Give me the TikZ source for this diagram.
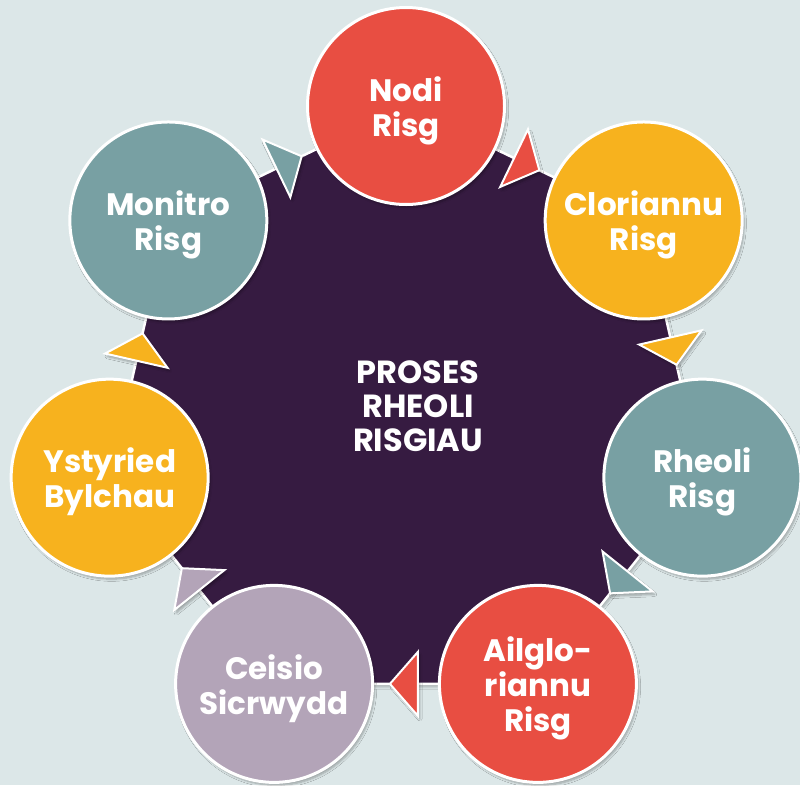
\documentclass[tikz,border=0pt]{standalone}
\usepackage{fontspec}
\setmainfont{Poppins}
\usetikzlibrary{calc,shadows.blur}
\definecolor{bgc}{RGB}{220,231,232}
\definecolor{purp}{RGB}{54,27,65}
\definecolor{cred}{RGB}{232,78,66}
\definecolor{corange}{RGB}{247,178,30}
\definecolor{cteal}{RGB}{120,160,163}
\definecolor{clav}{RGB}{179,164,184}
\tikzset{
  circ/.style={circle, draw=white, line width=3pt, minimum size=197pt, inner sep=0pt,
    blur shadow={shadow xshift=2pt, shadow yshift=-3pt, shadow blur steps=6, shadow opacity=30}},
  lbltext/.style={align=center, text=white, yshift=-4.5pt, inner sep=0pt,
    font=\bfseries\fontsize{31}{35}\selectfont},
  tri/.style={draw=white, line width=2pt, line join=miter,
    blur shadow={shadow xshift=2pt, shadow yshift=-3pt, shadow blur steps=5, shadow opacity=30}},
  hept/.style={draw=white, line width=2.5pt, fill=purp, line join=miter,
    blur shadow={shadow xshift=2pt, shadow yshift=-3pt, shadow blur steps=6, shadow opacity=25}},
  centertext/.style={align=center, text=white, font=\bfseries\fontsize{32}{34}\selectfont}
}
\begin{document}
\begin{tikzpicture}[x=1pt,y=-1pt]
\fill[bgc] (0,0) rectangle (800,785);
\useasboundingbox (0,0) rectangle (800,785);
\coordinate (C) at (406,410);
\foreach \i in {0,...,6} \coordinate (p\i) at ($(C)+({-90+\i*360/7}:304)$);
\draw[hept] (p0) -- (p1) -- (p2) -- (p3) -- (p4) -- (p5) -- (p6) -- cycle;
\foreach \i/\j/\c in {0/1/cred,1/2/corange,2/3/cteal,3/4/cred,4/5/clav,5/6/corange,6/0/cteal} {
  \coordinate (m\i) at ($(p\i)!120pt!(p\j)$);
  \coordinate (t\i) at ($(p\i)!148pt!(p\j)$);
  \draw[tri, fill=\c] ($(m\i)!32pt!90:(t\i)$) -- (t\i) -- ($(m\i)!32pt!-90:(t\i)$) -- cycle;
}
\node[circ, fill=cred, label={[lbltext]center:Nodi\\Risg}] (n0) at (p0) {};
\node[circ, fill=corange, label={[lbltext]center:Cloriannu\\Risg}] (n1) at (p1) {};
\node[circ, fill=cteal, label={[lbltext]center:Rheoli\\Risg}] (n2) at (p2) {};
\node[circ, fill=cred, label={[lbltext]center:Ailglo-\\riannu\\Risg}] (n3) at (p3) {};
\node[circ, fill=clav, label={[lbltext]center:Ceisio\\Sicrwydd}] (n4) at (p4) {};
\node[circ, fill=corange, label={[lbltext]center:Ystyried\\Bylchau}] (n5) at (p5) {};
\node[circ, fill=cteal, label={[lbltext]center:Monitro\\Risg}] (n6) at (p6) {};
\node[centertext] (ctr) at (418,406) {PROSES\\RHEOLI\\RISGIAU};
\end{tikzpicture}
\end{document}
